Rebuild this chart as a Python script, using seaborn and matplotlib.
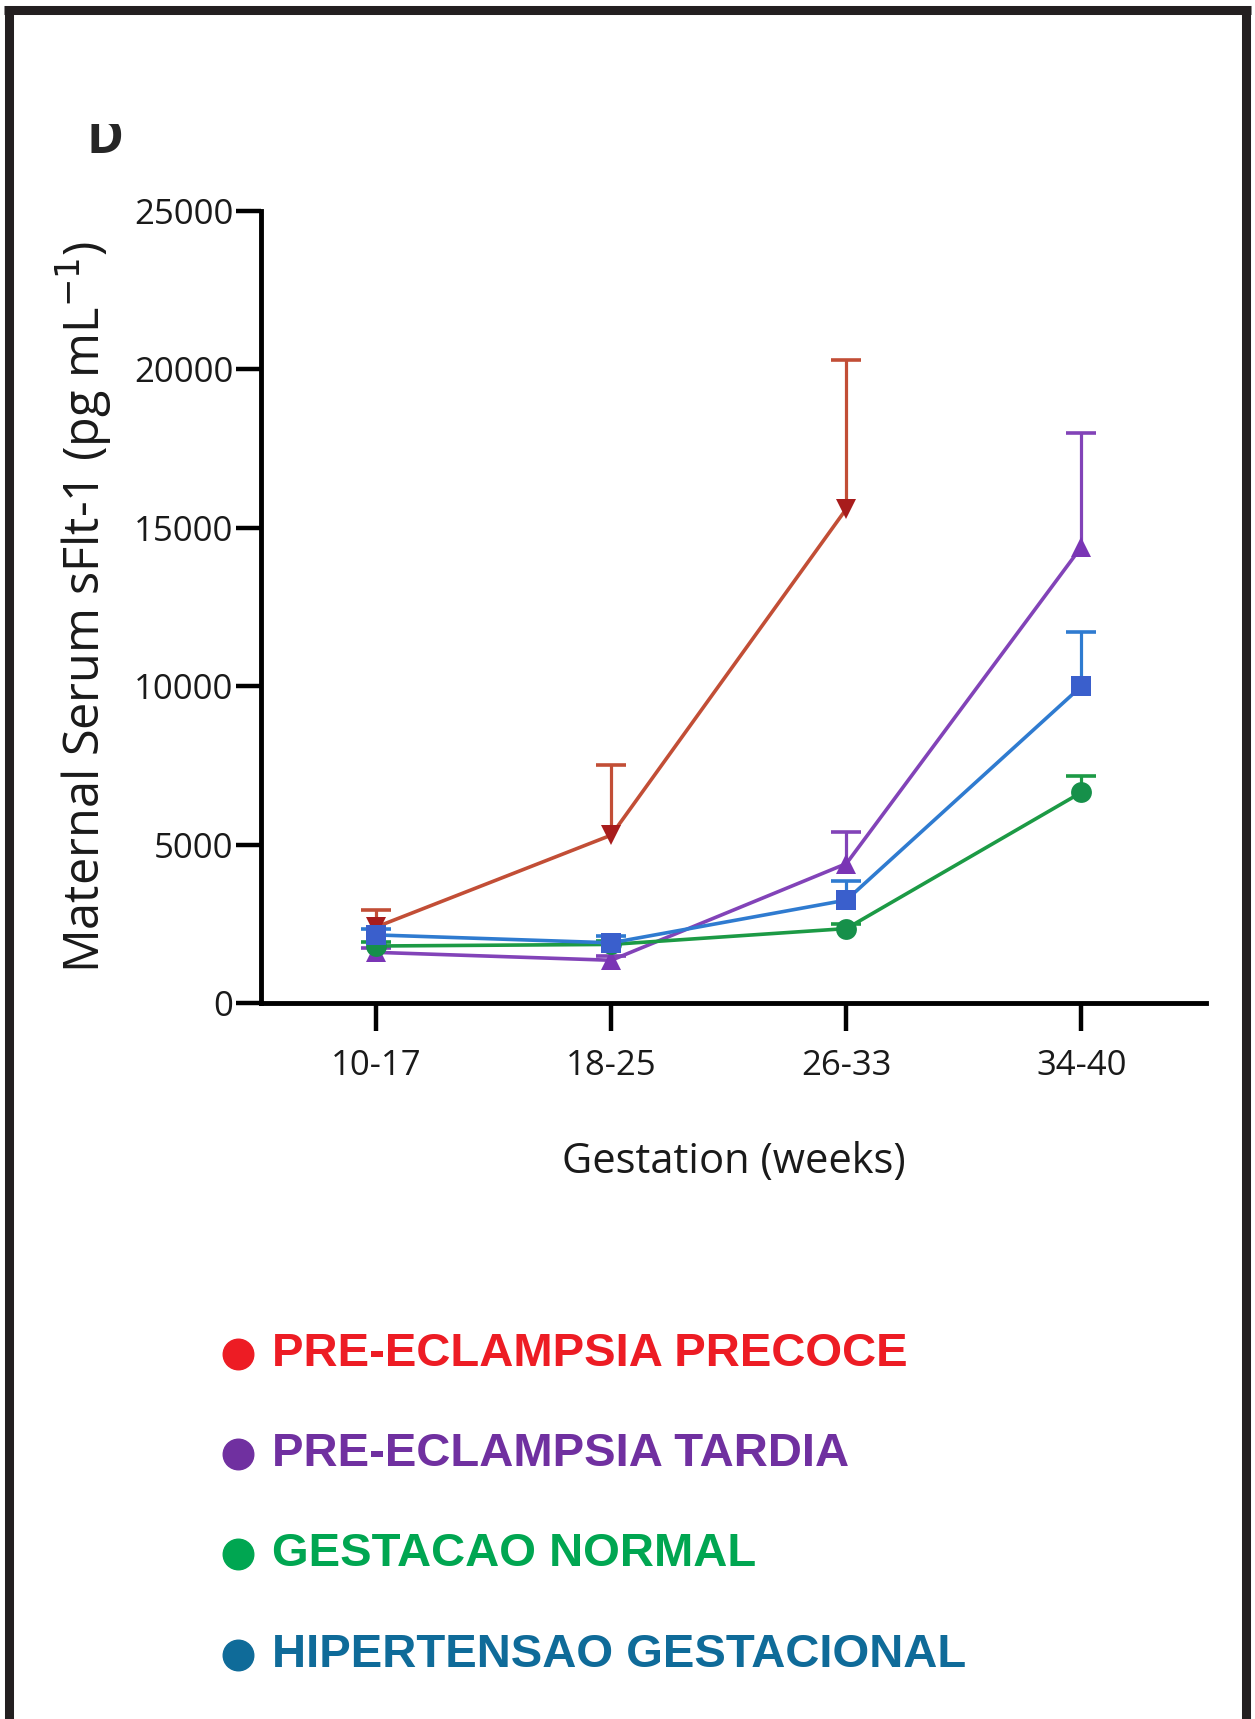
import numpy as np
import pandas as pd
import matplotlib
matplotlib.use("Agg")
import matplotlib.pyplot as plt
import seaborn as sns
from matplotlib.lines import Line2D
from matplotlib.patches import Rectangle
from matplotlib import font_manager

# dados
semanas = ["10-17", "18-25", "26-33", "34-40"]
grupos = ["PRE-ECLAMPSIA PRECOCE", "PRE-ECLAMPSIA TARDIA",
          "GESTACAO NORMAL", "HIPERTENSAO GESTACIONAL"]
pe_precoce = [2400, 5300, 15600, np.nan]
pe_precoce_err = [550, 2200, 4700, np.nan]
pe_tardia = [1600, 1350, 4400, 14400]
pe_tardia_err = [150, 150, 1000, 3600]
gest_normal = [1800, 1850, 2350, 6650]
gest_normal_err = [120, 100, 150, 500]
hipertensao = [2150, 1900, 3250, 10000]
hipertensao_err = [200, 200, 600, 1700]

cores_linha = ["#c24e36", "#8243b8", "#1c9a45", "#2f7bd0"]
cores_marcador = ["#a81c1c", "#7a35b5", "#16904a", "#3a5fcc"]
cores_legenda = ["#ed1c24", "#7030a0", "#00a651", "#0f6b99"]
marcadores = ["v", "^", "o", "s"]

valores = [pe_precoce, pe_tardia, gest_normal, hipertensao]
erros = [pe_precoce_err, pe_tardia_err, gest_normal_err, hipertensao_err]

linhas = []
for g, v, e in zip(grupos, valores, erros):
    for s, y, err in zip(semanas, v, e):
        linhas.append({"semana": s, "grupo": g, "valor": y, "erro": err})
df = pd.DataFrame(linhas)

sns.set_theme(style="white")
plt.rcParams["font.family"] = ["Open Sans", "DejaVu Sans"]

# fonte estreita para os ticks, se existir
nomes = {f.name for f in font_manager.fontManager.ttflist}
if "Liberation Sans Narrow" in nomes:
    fonte_tick, tam_tick = ["Liberation Sans Narrow", "DejaVu Sans"], 31
else:
    fonte_tick, tam_tick = ["Open Sans", "DejaVu Sans"], 25

fig = plt.figure(figsize=(12.55, 17.19), dpi=100)
ax = fig.add_axes([0.208, 0.4165, 0.753, 0.4608])

# barras de erro (so para cima)
for i, g in enumerate(grupos):
    d = df[(df.grupo == g) & df.valor.notna()]
    _, caps, _ = ax.errorbar(d.semana, d.valor,
                             yerr=[np.zeros(len(d)), d.erro],
                             fmt="none", ecolor=cores_linha[i],
                             elinewidth=2.3, capsize=11, capthick=2.6,
                             zorder=2 + i)
    caps[0].set_visible(False)

sns.lineplot(data=df.dropna(subset=["valor"]), x="semana", y="valor",
             hue="grupo", hue_order=grupos, palette=cores_linha,
             style="grupo", style_order=grupos,
             markers=dict(zip(grupos, marcadores)), dashes=False,
             linewidth=2.6, markersize=15, markeredgewidth=0,
             legend=False, ax=ax)
for i, ln in enumerate(ax.get_lines()[-4:]):
    ln.set_markerfacecolor(cores_marcador[i])
    ln.set_zorder(3 + i)

ax.set_xlim(-0.49, 3.53)
ax.set_ylim(0, 25000)
ax.set_yticks([0, 5000, 10000, 15000, 20000, 25000])
ax.set_yticklabels(["0", "5000", "10000", "15000", "20000", "25000"])
sns.despine(ax=ax)
for sp in ["left", "bottom"]:
    ax.spines[sp].set_linewidth(3.5)
    ax.spines[sp].set_color("black")
ax.tick_params(axis="both", direction="out", length=18, width=3.2,
               color="black", pad=2, left=True, bottom=True)
ax.tick_params(axis="x", length=20, pad=13)
for t in ax.get_xticklabels() + ax.get_yticklabels():
    t.set_fontfamily(fonte_tick)
    t.set_fontsize(tam_tick)
    t.set_color("#1a1a1a")
ax.set_xlabel("Gestation (weeks)", fontsize=30, labelpad=42, color="#1a1a1a")
ax.set_ylabel("Maternal Serum sFlt-1 (pg mL$^{-1}$)", fontsize=35,
              color="#1a1a1a")
ax.yaxis.set_label_coords(-0.156, 0.5)
ax.grid(False)

# letra do painel, cortada em cima
fig.text(0.0837, 1 - 153 / 1719, "D", fontsize=36, fontweight="bold",
         ha="center", va="baseline")
fig.add_artist(Rectangle((0.05, 1 - 124 / 1719), 0.1, 0.03,
                         transform=fig.transFigure,
                         facecolor="white", edgecolor="none", zorder=10))

# legenda manual
ys = [1 - 1354 / 1719, 1 - 1454 / 1719, 1 - 1554 / 1719, 1 - 1655 / 1719]
for g, c, y in zip(grupos, cores_legenda, ys):
    fig.add_artist(Line2D([238 / 1255], [y], marker="o", markersize=22,
                          color=c, linestyle="none",
                          transform=fig.transFigure))
    fig.text(272 / 1255, y, g, color=c, fontsize=34, fontweight="bold",
             family=["Liberation Sans", "DejaVu Sans"], ha="left",
             va="center")

# moldura
kw = dict(color="#231f20", linewidth=6.5, transform=fig.transFigure,
          solid_capstyle="butt")
fig.add_artist(Line2D([0.003, 0.997], [1 - 10 / 1719, 1 - 10 / 1719], **kw))
fig.add_artist(Line2D([9 / 1255, 9 / 1255], [0, 1 - 6 / 1719], **kw))
fig.add_artist(Line2D([1246 / 1255, 1246 / 1255], [0, 1 - 6 / 1719], **kw))

fig.savefig("out.png", dpi=100, facecolor="white")
